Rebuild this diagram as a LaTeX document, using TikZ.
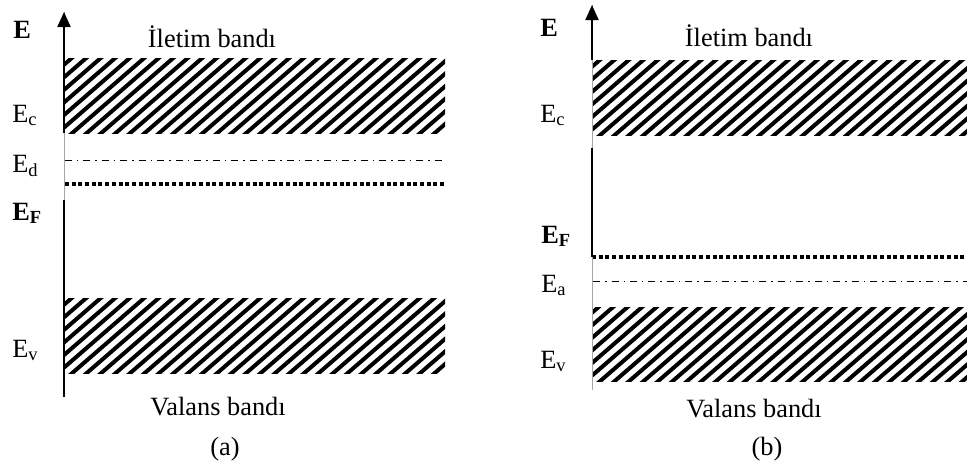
\documentclass[tikz,border=0pt]{standalone}
\usepackage{fontspec}
\setmainfont{Liberation Serif}
\usetikzlibrary{arrows.meta}

\begin{document}
\begin{tikzpicture}[
    x=0.02cm, y=-0.02cm,
    every node/.style={font=\fontsize{15}{18}\selectfont, inner sep=0pt},
    lvl/.style={anchor=base west},
    titlelbl/.style={anchor=base},
    axis/.style={line width=0.04cm},
    faint/.style={line width=0.02cm, black!35},
    hatch/.style={line width=0.08cm},
    donor/.style={line width=0.02cm, dash pattern=on 0.14cm off 0.1cm on 0.03cm off 0.1cm},
    fermi/.style={line width=0.07cm, dash pattern=on 0.08cm off 0.054cm},
    >={Triangle[width=0.26cm,length=0.3cm]},
]

\useasboundingbox (0,0) rectangle (967,471);

% ===== (a) n-type =====
\coordinate (aBot) at (64,397);
\coordinate (aTop) at (64,12);
\coordinate (aGapLo) at (64,200);
\coordinate (aGapHi) at (64,133);

% Conduction band
\begin{scope}
  \clip (65,58) rectangle (445,133);
  \foreach \k in {0,...,34}
    \draw[hatch] (65-100+\k*14.5,138) -- ++(100,-86.7);
\end{scope}

% Valence band
\begin{scope}
  \clip (65,298) rectangle (445,373);
  \foreach \k in {0,...,34}
    \draw[hatch] (65-100+\k*14.5,378) -- ++(100,-86.7);
\end{scope}

% Levels
\coordinate (aEdL) at (65,160);
\coordinate (aEdR) at (445,160);
\coordinate (aEfL) at (65,184);
\coordinate (aEfR) at (445,184);
\draw[donor] (aEdL) -- (aEdR);
\draw[fermi] (aEfL) -- (aEfR);

% Axis
\draw[faint] (aBot) -- (aTop);
\draw[axis] (aBot) -- (aGapLo);
\draw[axis, ->] (aGapHi) -- (aTop);

% Labels
\node[lvl] (aE) at (13,38) {\textbf{E}};
\node[titlelbl] (aCond) at (212,47) {İletim bandı};
\node[lvl] (aEc) at (12,122) {E\textsubscript{c}};
\node[lvl] (aEd) at (12,172) {E\textsubscript{d}};
\node[lvl] (aEF) at (12,220) {\textbf{E\textsubscript{F}}};
\node[lvl] (aEv) at (12,357) {E\textsubscript{v}};
\node[titlelbl] (aVal) at (218,415) {Valans bandı};
\node[titlelbl] (aCap) at (225,455) {(a)};

% ===== (b) p-type =====
\coordinate (bBot) at (592,390);
\coordinate (bTop) at (592,5);
\coordinate (bThkLo) at (592,257);
\coordinate (bThkHi) at (592,148);
\coordinate (bArrLo) at (592,60);

% Conduction band
\begin{scope}
  \clip (593,60) rectangle (967,135);
  \foreach \k in {0,...,34}
    \draw[hatch] (593-100+\k*14.5,140) -- ++(100,-86.7);
\end{scope}

% Valence band
\begin{scope}
  \clip (593,307) rectangle (967,381);
  \foreach \k in {0,...,34}
    \draw[hatch] (593-100+\k*14.5,386) -- ++(100,-86.7);
\end{scope}

% Levels
\coordinate (bEfL) at (592,257);
\coordinate (bEfR) at (967,257);
\coordinate (bEaL) at (593,281);
\coordinate (bEaR) at (967,281);
\draw[fermi] (bEfL) -- (bEfR);
\draw[donor] (bEaL) -- (bEaR);

% Axis
\draw[faint] (bBot) -- (bTop);
\draw[axis] (bThkLo) -- (bThkHi);
\draw[axis, ->] (bArrLo) -- (bTop);

% Labels
\node[lvl] (bE) at (540,36) {\textbf{E}};
\node[titlelbl] (bCond) at (749,46) {İletim bandı};
\node[lvl] (bEc) at (540,122) {E\textsubscript{c}};
\node[lvl] (bEF) at (541,243) {\textbf{E\textsubscript{F}}};
\node[lvl] (bEa) at (541,292) {E\textsubscript{a}};
\node[lvl] (bEv) at (540,368) {E\textsubscript{v}};
\node[titlelbl] (bVal) at (754,417) {Valans bandı};
\node[titlelbl] (bCap) at (767,455) {(b)};

\end{tikzpicture}
\end{document}
